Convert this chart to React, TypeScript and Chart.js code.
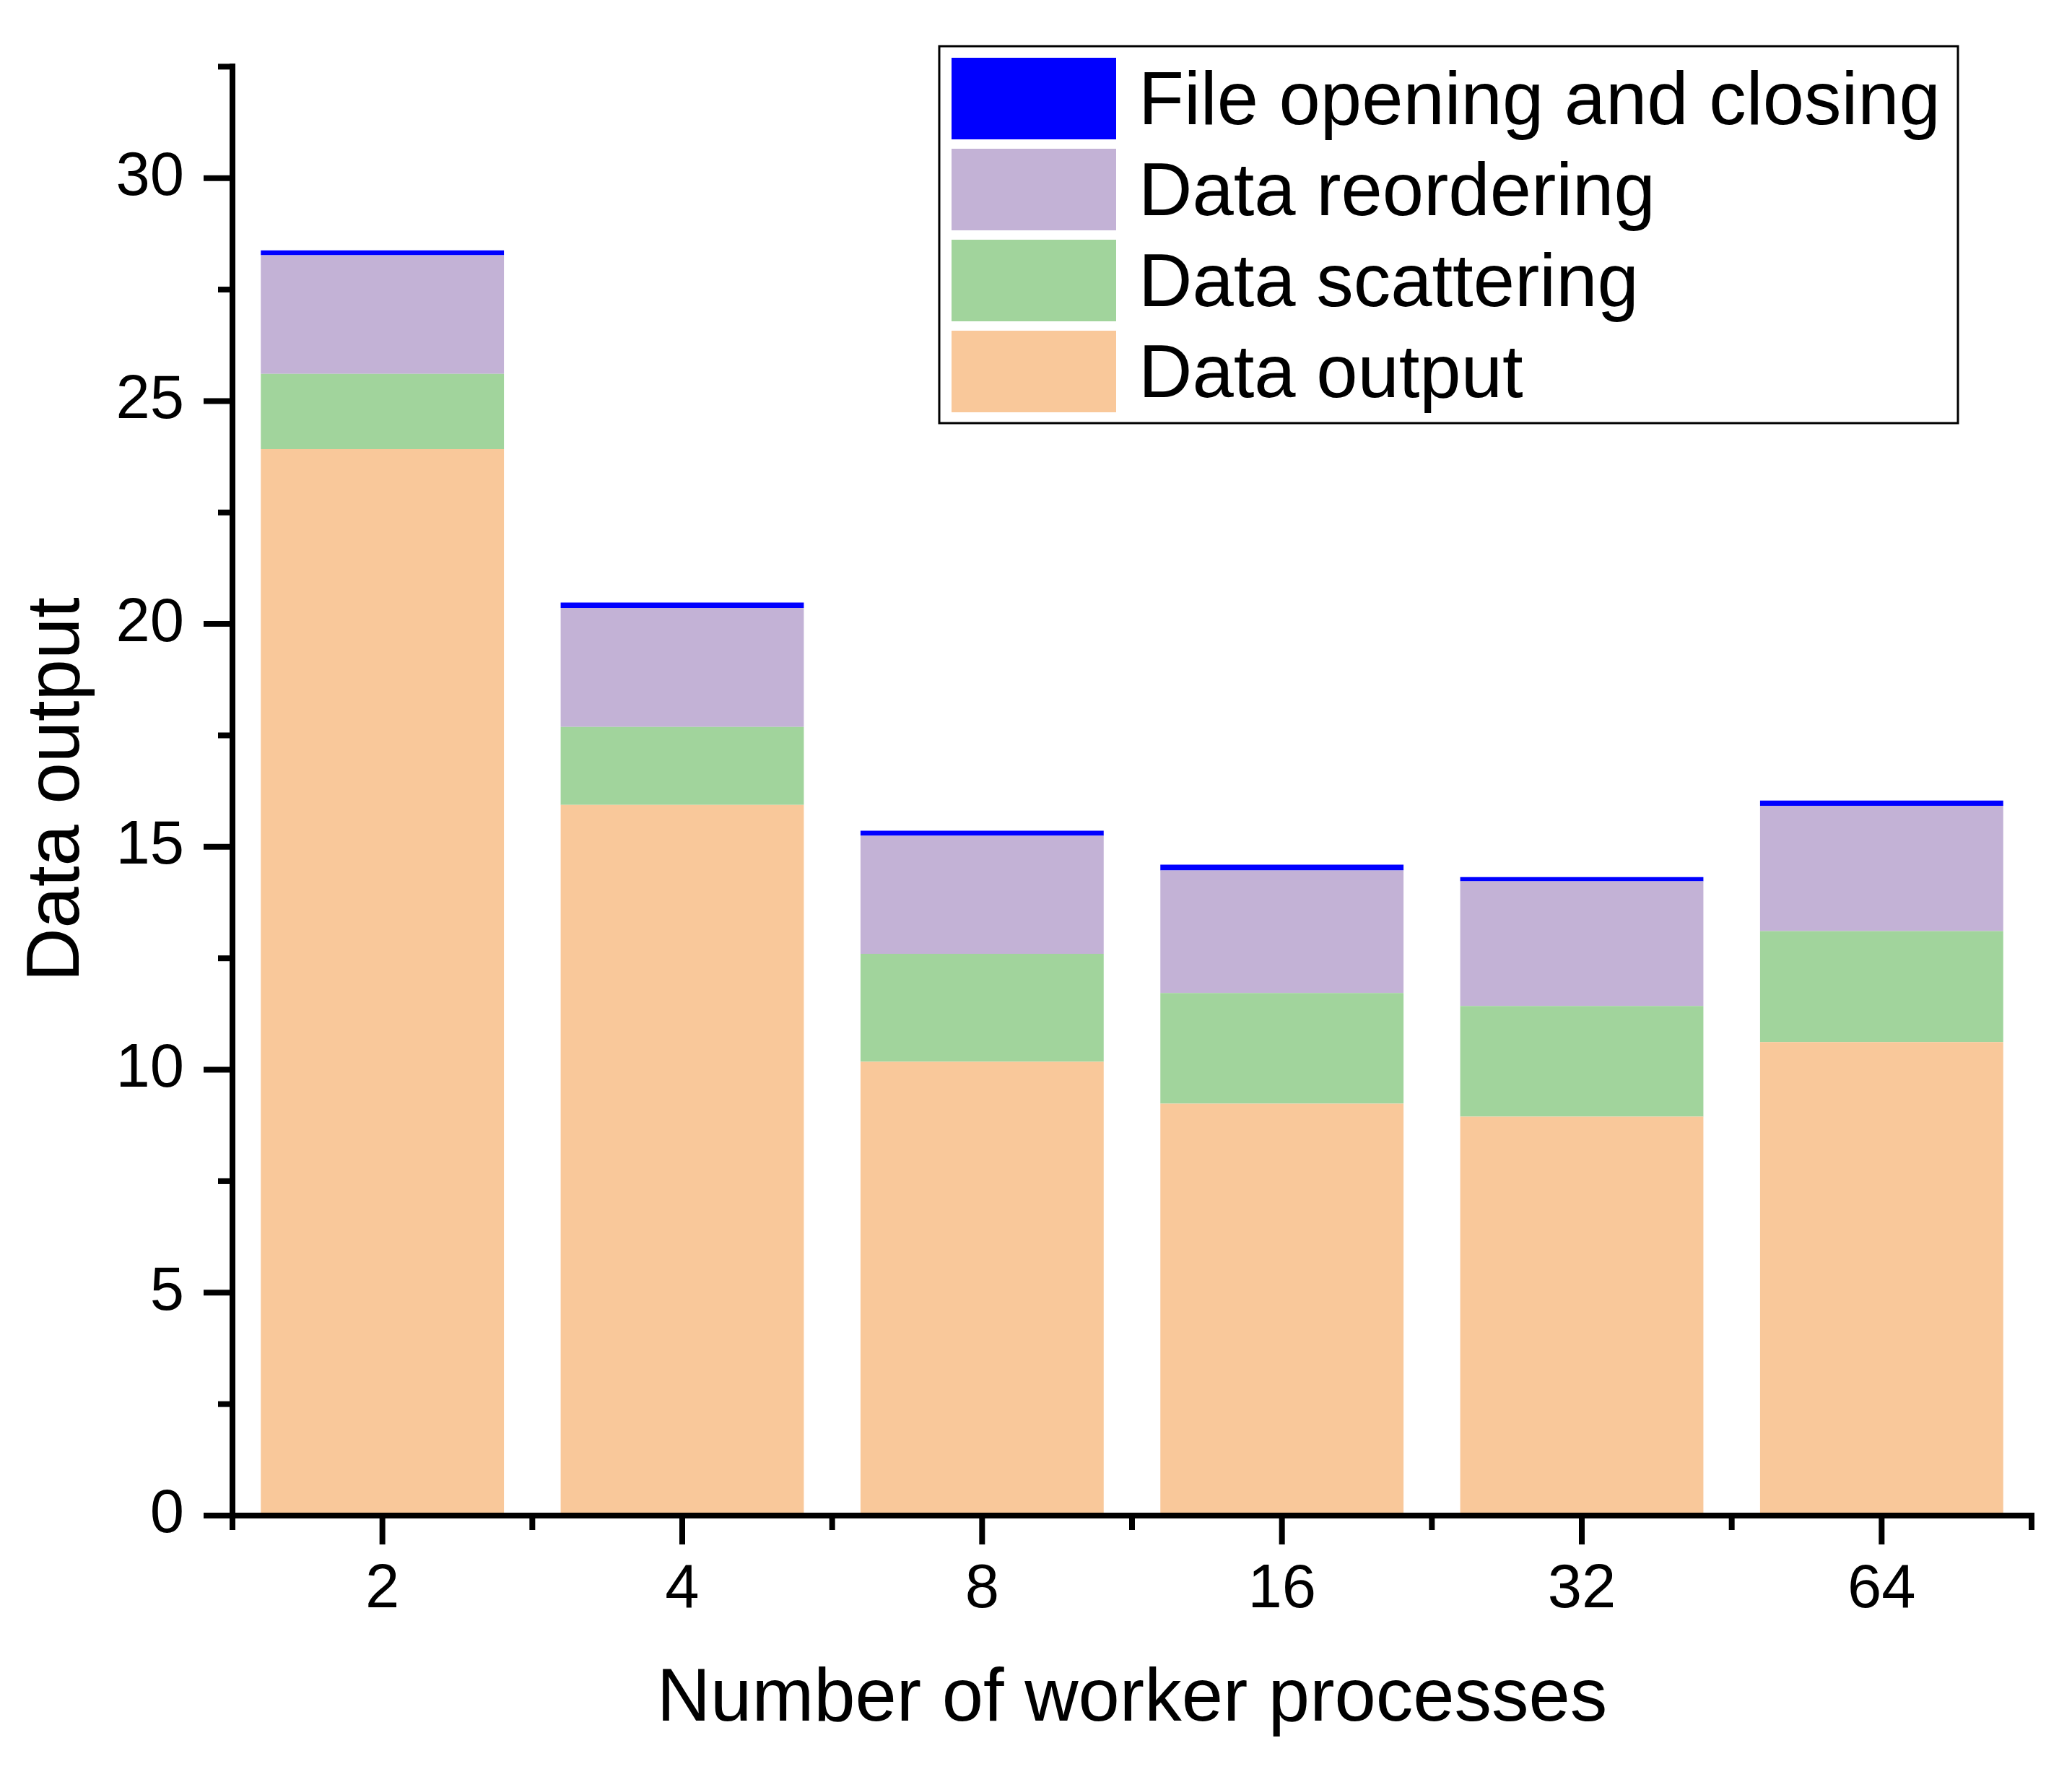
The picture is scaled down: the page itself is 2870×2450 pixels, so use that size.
import React, { useEffect, useRef } from "react";
import { Chart, registerables } from "chart.js";

Chart.register(...registerables);

// ---- data ----
const categories = ["2", "4", "8", "16", "32", "64"];
const dataOutput = [23.92, 15.94, 10.18, 9.24, 8.95, 10.62];
const dataScattering = [1.69, 1.75, 2.42, 2.48, 2.48, 2.49];
const dataReordering = [2.66, 2.67, 2.65, 2.75, 2.8, 2.81];
const fileOpenClose = [0.11, 0.12, 0.11, 0.13, 0.09, 0.12];

const seriesLabels = ["Data output", "Data scattering", "Data reordering", "File opening and closing"];
const seriesColors = ["#F9C89A", "#A1D49C", "#C3B2D6", "#0000FF"];

const yMajorTicks = [0, 5, 10, 15, 20, 25, 30];
const yMinorTicks = [2.5, 7.5, 12.5, 17.5, 22.5, 27.5, 32.5];
const yMin = 0;
const yMax = 32.57;

const xTitle = "Number of worker processes";
const yTitle = "Data output";

const FONT = "'Liberation Sans', Arial, Helvetica, sans-serif";

const axesAndLegendPlugin = {
  id: "originAxesLegend",
  afterDraw(chart: any) {
    const { ctx, chartArea, scales } = chart;
    const xs = scales.x;
    const ys = scales.y;
    const left = chartArea.left;
    const right = chartArea.right;
    const top = chartArea.top;
    const bottom = ys.getPixelForValue(0);
    const half = 4;

    const line = (x1: number, y1: number, x2: number, y2: number) => {
      ctx.beginPath();
      ctx.moveTo(x1, y1);
      ctx.lineTo(x2, y2);
      ctx.stroke();
    };

    ctx.save();
    ctx.strokeStyle = "#000";
    ctx.lineWidth = 8;
    ctx.lineCap = "butt";

    // axis lines
    line(left, top, left, bottom + half);
    line(left - half, bottom, right + half, bottom);

    // y ticks
    yMajorTicks.forEach((v) => {
      const py = ys.getPixelForValue(v);
      line(left - 40, py, left, py);
    });
    yMinorTicks.forEach((v) => {
      const py = ys.getPixelForValue(v);
      line(left - 20, py, left, py);
    });

    // x ticks
    const n = categories.length;
    const centers = categories.map((_, i) => xs.getPixelForValue(i));
    const step = n > 1 ? centers[1] - centers[0] : right - left;
    centers.forEach((px) => line(px, bottom, px, bottom + 40));
    for (let i = 0; i <= n; i++) {
      const px = i === n ? centers[n - 1] + step / 2 : centers[i] - step / 2;
      line(px, bottom, px, bottom + 20);
    }

    // legend
    const boxL = 1301, boxT = 64, boxR = 2712, boxB = 586;
    ctx.lineWidth = 3;
    ctx.strokeRect(boxL, boxT, boxR - boxL, boxB - boxT);
    const ds = chart.data.datasets;
    const order = ds.map((_: any, i: number) => i).reverse();
    ctx.font = `103px ${FONT}`;
    ctx.textAlign = "left";
    ctx.textBaseline = "alphabetic";
    order.forEach((di: number, row: number) => {
      const sy = 80 + row * 126;
      ctx.fillStyle = ds[di].backgroundColor;
      ctx.fillRect(1318, sy, 228, 113);
      ctx.fillStyle = "#000";
      ctx.fillText(ds[di].label, 1577, 171.5 + row * 126);
    });
    ctx.restore();
  },
};

export default function App() {
  const canvasRef = useRef<HTMLCanvasElement | null>(null);

  useEffect(() => {
    document.body.style.margin = "0";
    const canvas = canvasRef.current;
    if (!canvas) return;
    const seriesValues = [dataOutput, dataScattering, dataReordering, fileOpenClose];

    const chart = new Chart(canvas, {
      type: "bar",
      data: {
        labels: categories,
        datasets: seriesValues.map((vals, i) => ({
          label: seriesLabels[i],
          data: vals,
          backgroundColor: seriesColors[i],
          borderWidth: 0,
          categoryPercentage: 1,
          barPercentage: 0.811,
        })),
      },
      options: {
        responsive: false,
        animation: false,
        devicePixelRatio: 1,
        layout: { padding: { top: 88, right: 56, left: 0, bottom: 0 } },
        plugins: {
          legend: { display: false },
          tooltip: { enabled: false },
        },
        scales: {
          x: {
            stacked: true,
            grid: { display: false, drawTicks: true, tickLength: 53 },
            border: { display: false },
            ticks: {
              color: "#000",
              padding: 0,
              maxRotation: 0,
              font: { family: FONT, size: 85, lineHeight: 1.2 },
            },
            title: {
              display: true,
              text: xTitle,
              color: "#000",
              font: { family: FONT, size: 103, lineHeight: 1.2 },
              padding: { top: 0, bottom: 34 },
            },
            afterFit: (scale: any) => {
              scale.height = 351;
            },
          },
          y: {
            stacked: true,
            min: yMin,
            max: yMax,
            grid: { display: false, drawTicks: true, tickLength: 67 },
            border: { display: false },
            ticks: {
              stepSize: 5,
              includeBounds: false,
              color: "#000",
              padding: 0,
              font: { family: FONT, size: 85, lineHeight: 1.2 },
            },
            title: {
              display: true,
              text: yTitle,
              color: "#000",
              font: { family: FONT, size: 103, lineHeight: 1.2 },
              padding: { top: 19, bottom: 0 },
            },
            afterFit: (scale: any) => {
              scale.width = 322;
            },
          },
        },
      },
      plugins: [axesAndLegendPlugin],
    });

    return () => {
      chart.destroy();
    };
  }, []);

  return (
    <canvas
      ref={canvasRef}
      width={2870}
      height={2450}
      style={{ display: "block", width: "2870px", height: "2450px" }}
    />
  );
}
